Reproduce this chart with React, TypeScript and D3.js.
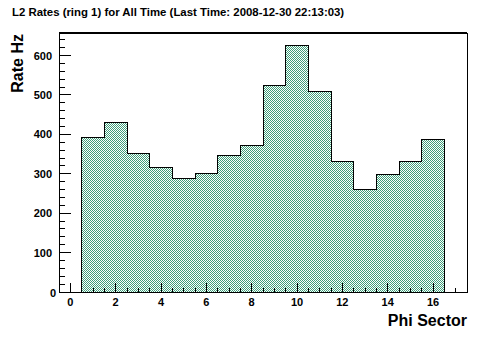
import React from "react";
import * as d3 from "d3";

// Phi sector bins 1..16 and L2 rates (Hz)
const sectors = [1, 2, 3, 4, 5, 6, 7, 8, 9, 10, 11, 12, 13, 14, 15, 16];
const rates = [391, 431, 351, 315, 287, 300, 346, 371, 523, 626, 508, 332, 259, 299, 330, 386];
const xTicks = [0, 2, 4, 6, 8, 10, 12, 14, 16];
const yTicks = [0, 100, 200, 300, 400, 500, 600];

const W = 492;
const H = 344;
const frame = { left: 59, right: 467, top: 33, bottom: 292 };
const font = "'Liberation Sans', Arial, Helvetica, sans-serif";

const App = () => {
  const x = d3.scaleLinear().domain([-0.5, 17.5]).range([frame.left, frame.right]);
  const y = d3
    .scaleLinear()
    .domain([0, d3.max(rates) * 1.05])
    .range([frame.bottom, frame.top]);

  // step outline of the histogram
  const pts: [number, number][] = [[0.5, 0]];
  sectors.forEach((s, i) => {
    pts.push([s - 0.5, rates[i]]);
    pts.push([s + 0.5, rates[i]]);
  });
  pts.push([16.5, 0]);
  const line = d3
    .line<[number, number]>()
    .x((d) => x(d[0]))
    .y((d) => y(d[1]));
  const path = line(pts);

  const xMinor = d3.range(-0.5, 17.5 + 0.01, 0.5).filter((v) => !xTicks.includes(v));
  const yMinor = d3.range(0, y.domain()[1], 20).filter((v) => v % 100 !== 0);

  return (
    <svg
      width={W}
      height={H}
      style={{ position: "absolute", left: 0, top: 0, background: "#fff" }}
      fontFamily={font}
      fontWeight="bold"
    >
      <defs>
        <pattern id="chk" width={2} height={2} patternUnits="userSpaceOnUse">
          <rect x={0} y={0} width={2} height={2} fill="#fff" />
          <rect x={0} y={0} width={1} height={1} fill="#3f9e7a" />
          <rect x={1} y={1} width={1} height={1} fill="#3f9e7a" />
        </pattern>
      </defs>
      <rect width={W} height={H} fill="#fff" />

      <text x={12} y={16} fontSize={11.4} fill="#000">
        L2 Rates (ring 1) for All Time (Last Time: 2008-12-30 22:13:03)
      </text>

      <g shapeRendering="crispEdges">
        <path d={path + "Z"} fill="url(#chk)" stroke="none" />
        <path d={path} fill="none" stroke="#000" strokeWidth={1} />

        <rect
          x={frame.left}
          y={frame.top}
          width={frame.right - frame.left}
          height={frame.bottom - frame.top}
          fill="none"
          stroke="#000"
        />
        <line x1={frame.left} x2={frame.right} y1={frame.top} y2={frame.top} stroke="#000" strokeWidth={2} />

        {xTicks.map((t) => (
          <line key={"xt" + t} x1={x(t)} x2={x(t)} y1={frame.bottom} y2={frame.bottom - 9} stroke="#000" />
        ))}
        {xMinor.map((t) => (
          <line key={"xm" + t} x1={x(t)} x2={x(t)} y1={frame.bottom} y2={frame.bottom - 4} stroke="#000" />
        ))}
        {yTicks.map((t) => (
          <line key={"yt" + t} x1={frame.left} x2={frame.left + 12} y1={y(t)} y2={y(t)} stroke="#000" />
        ))}
        {yMinor.map((t) => (
          <line key={"ym" + t} x1={frame.left} x2={frame.left + 6} y1={y(t)} y2={y(t)} stroke="#000" />
        ))}
      </g>

      {xTicks.map((t) => (
        <text key={"xl" + t} x={x(t)} y={306} fontSize={11} textAnchor="middle" fill="#000">
          {t}
        </text>
      ))}
      {yTicks.map((t) => (
        <text key={"yl" + t} x={t === 0 ? 56 : 52} y={y(t) + (t === 0 ? 5 : 4)} fontSize={11} textAnchor="end" fill="#000">
          {t}
        </text>
      ))}

      <text x={467} y={326} fontSize={16} textAnchor="end" fill="#000">
        Phi Sector
      </text>
      <text transform="translate(23,34) rotate(-90)" fontSize={16} textAnchor="end" fill="#000">
        Rate Hz
      </text>
    </svg>
  );
};

export default App;
